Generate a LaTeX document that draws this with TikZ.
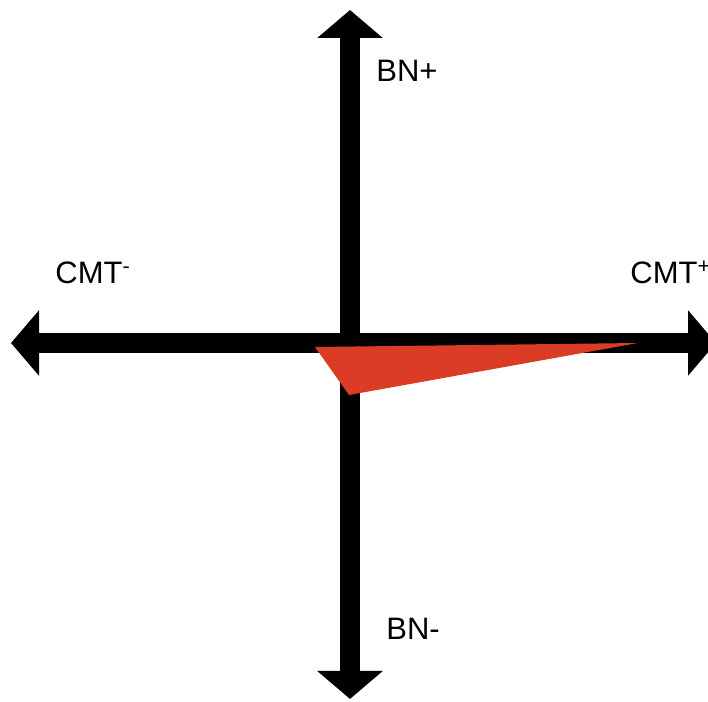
\documentclass[tikz,border=0pt]{standalone}
\usepackage{fontspec}
\setmainfont{Liberation Sans}
\usepackage{xcolor}
\usetikzlibrary{arrows.meta}

\definecolor{wedgered}{RGB}{218,60,38}

\begin{document}
\begin{tikzpicture}[
    x=0.5pt, y=0.5pt,
    axis/.style={line width=10pt, {Triangle[length=14pt,width=32pt]}-{Triangle[length=14pt,width=32pt]}},
    lbl/.style={anchor=base west, inner sep=0pt},
    font=\fontsize{15.5}{18}\selectfont
]

    % Frame of the picture
    \useasboundingbox (0,0) rectangle (708,702);

    % Define standard coordinates
    \coordinate (BNtop) at (350, 692);
    \coordinate (BNbot) at (350, 3);
    \coordinate (CMTl)  at (11, 359);
    \coordinate (CMTr)  at (716, 359);

    % Axes
    \draw[axis] (BNbot) -- (BNtop);
    \draw[axis] (CMTl) -- (CMTr);

    % Red wedge (drawn last so it lies over the axes)
    \coordinate (W1) at (315, 355);
    \coordinate (W2) at (638, 359);
    \coordinate (W3) at (349, 307);
    \fill[wedgered] (W1) -- (W2) -- (W3) -- cycle;

    % Axis labels
    \node[lbl] (bnplus)  at (376, 620) {BN+};
    \node[lbl] (bnminus) at (386, 62)  {BN-};
    \node[lbl] (cmtminus) at (55, 418) {CMT\textsuperscript{-}};
    \node[lbl] (cmtplus)  at (630, 418) {CMT\textsuperscript{+}};

\end{tikzpicture}
\end{document}
